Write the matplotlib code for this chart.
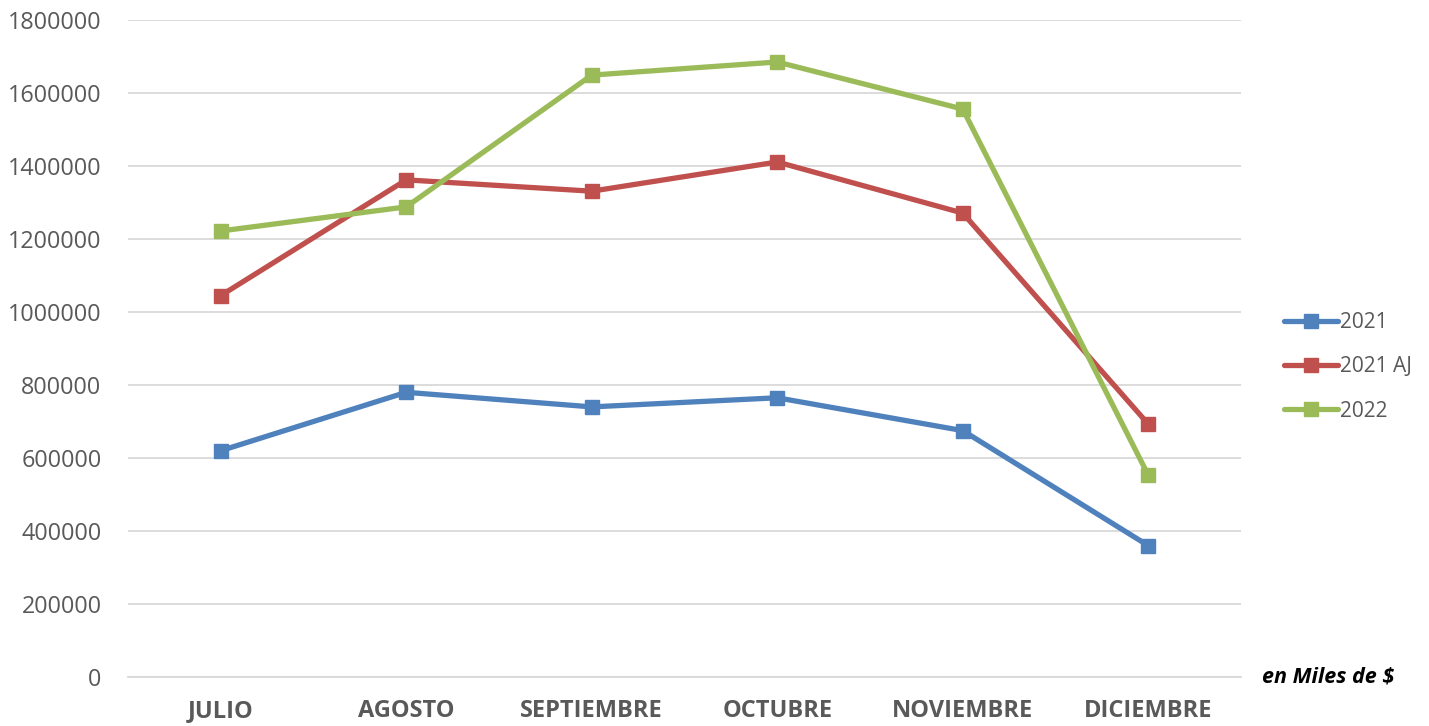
import matplotlib
matplotlib.use("Agg")
import matplotlib.pyplot as plt
from matplotlib.ticker import MultipleLocator, FuncFormatter

plt.rcParams['font.family'] = ['Open Sans', 'DejaVu Sans']

months = ["JULIO", "AGOSTO", "SEPTIEMBRE", "OCTUBRE", "NOVIEMBRE", "DICIEMBRE"]
s2021 = [620000, 780000, 740000, 765000, 675000, 360000]
s2021aj = [1045000, 1362000, 1331000, 1411000, 1271000, 693000]
s2022 = [1222000, 1288000, 1649000, 1685000, 1556000, 553000]
series_names = ["2021", "2021 AJ", "2022"]
colors = ["#4F81BD", "#C0504D", "#9BBB59"]

fig = plt.figure(figsize=(14.29, 7.26), dpi=100)
ax = fig.add_axes([128/1429, 1-677/726, (1241-128)/1429, (677-20)/726])

x = list(range(len(months)))
for name, vals, c in zip(series_names, [s2021, s2021aj, s2022], colors):
    ax.plot(x, vals, color=c, lw=3.8, marker='s', markersize=10,
            solid_capstyle='round', label=name, zorder=3)

ax.set_xlim(-0.5, len(months)-0.5)
ax.set_ylim(0, 1800000)
ax.yaxis.set_major_locator(MultipleLocator(200000))
ax.yaxis.set_major_formatter(FuncFormatter(lambda v, p: f"{int(v)}"))
ax.grid(axis='y', color='#D9D9D9', lw=1.3)
ax.set_axisbelow(True)
for s in ['top', 'right', 'left']:
    ax.spines[s].set_visible(False)
ax.spines['bottom'].set_color('#D9D9D9')
ax.spines['bottom'].set_linewidth(1.3)
ax.tick_params(axis='both', length=0)
ax.tick_params(axis='y', labelsize=16.8, labelcolor='#595959', pad=19)
ax.set_xticks(x)
ax.set_xticklabels(months, fontsize=17, fontweight='bold', color='#595959')
ax.tick_params(axis='x', pad=16)

leg = ax.legend(loc='center left', bbox_to_anchor=(1.022, 0.472), frameon=False,
                fontsize=15, labelcolor='#595959', handlelength=2.6,
                handletextpad=0.1, labelspacing=1.12)

fig.text(1262/1429, 1-677/726, "en Miles de $", fontsize=15.5, fontweight='bold',
         fontstyle='italic', color='black', ha='left', va='center')

fig.savefig("out.png", dpi=100)
